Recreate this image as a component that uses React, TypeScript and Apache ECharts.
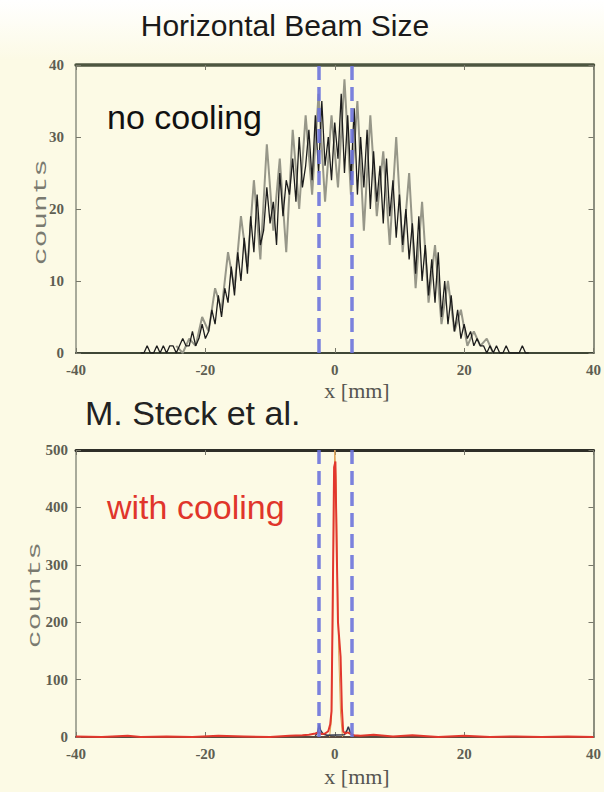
import React, { useEffect, useRef } from "react";
import * as echarts from "echarts";

// ---------- data ----------
const titleText = "Horizontal Beam Size";
const topNote = "no cooling";
const bottomNote = "with cooling";
const credit = "M. Steck et al.";
const xName = "x [mm]";
const yName = "counts";

// uncooled histogram (dark trace), bins of 0.5 mm starting at -30 mm
const binStart = -30;
const binWidth = 0.5;
const noCoolDark = [
  0, 0, 1, 0, 0, 1, 0, 1, 0, 1,
  1, 0, 1, 2, 1, 1, 3, 1, 2, 4,
  2, 3, 6, 4, 8, 5, 9, 7, 12, 8,
  14, 10, 16, 11, 19, 14, 22, 15, 17, 23,
  18, 21, 15, 25, 19, 24, 22, 27, 21, 30,
  23, 26, 31, 24, 33, 25, 35, 26, 30, 24,
  32, 27, 36, 25, 33, 24, 34, 22, 30, 23,
  31, 20, 28, 21, 26, 18, 27, 19, 24, 16,
  22, 15, 20, 13, 18, 11, 19, 10, 15, 8,
  13, 7, 14, 5, 10, 4, 8, 3, 6, 2,
  4, 2, 3, 1, 2, 1, 1, 0, 1, 0,
  1, 0, 0, 1, 0, 0, 0, 0, 1, 0,
  0,
];

// uncooled histogram (grey spikes), bins of 1 mm starting at -24.5 mm
const grayStart = -24.5;
const grayWidth = 1;
const noCoolGray = [
  1, 0, 2, 1, 5, 3, 9, 6, 14, 9,
  19, 12, 24, 13, 29, 17, 27, 14, 31, 20,
  33, 22, 36, 21, 33, 23, 38, 22, 35, 17,
  33, 19, 28, 15, 30, 14, 25, 9, 21, 7,
  15, 4, 10, 3, 6, 1, 3, 1, 2, 0,
];

// cooled beam profile
const coolX = [
  -40, -36, -32, -30, -26, -22, -18, -14, -10, -7,
  -5, -4, -3, -2.5, -2, -1.5, -1, -0.7, -0.5, -0.3,
  -0.1, 0.1, 0.3, 0.5, 0.7, 0.9, 1.1, 1.3, 1.6, 2,
  2.5, 3, 4, 6, 9, 12, 16, 20, 24, 28,
  32, 36, 40,
];
const coolY = [
  1, 0, 2, 0, 1, 0, 2, 1, 0, 2,
  3, 4, 6, 8, 5, 6, 10, 22, 45, 250,
  470, 480, 330, 200, 170, 140, 50, 10, 6, 8,
  5, 3, 2, 4, 1, 3, 0, 2, 0, 1,
  0, 1, 0,
];
const orangeX = [-0.8, -0.5, -0.3, -0.1, 0.0, 0.2, 0.4, 0.6, 0.9, 1.2];
const orangeY = [0, 30, 200, 420, 500, 450, 300, 150, 40, 0];
const baseX = [-3, -2.6, -2.4, -2.2, -1.8, -1.2, 1.5, 1.9, 2.1, 2.4, 2.8];
const baseY = [2, 10, 22, 12, 5, 3, 4, 12, 18, 8, 2];

const cutLines = [-2.4, 2.7];

const xRange = { min: -40, max: 40, interval: 20 };
const yTopRange = { min: 0, max: 40, interval: 10 };
const yBottomRange = { min: 0, max: 500, interval: 100 };

// ---------- helpers ----------
const pairs = (xs: number[], ys: number[]) => xs.map((x, i) => [x, ys[i]]);
const binned = (start: number, width: number, ys: number[]) =>
  ys.map((y, i) => [start + i * width, y]);

const tickFont = {
  fontFamily: "Liberation Serif",
  fontSize: 15,
  fontWeight: "bold" as const,
  color: "#5e5e52",
};

function mainX(gridIndex: number, lineColor: string, margin: number) {
  return {
    type: "value",
    gridIndex,
    ...xRange,
    position: "bottom",
    axisLine: { show: true, onZero: false, lineStyle: { color: lineColor, width: 2 } },
    axisTick: { show: true, inside: true, length: 5, lineStyle: { color: "#77776a" } },
    axisLabel: { ...tickFont, margin },
    splitLine: { show: false },
  };
}
function mirrorX(gridIndex: number, lineColor: string, width: number) {
  return {
    type: "value",
    gridIndex,
    ...xRange,
    position: "top",
    axisLine: { show: true, onZero: false, lineStyle: { color: lineColor, width } },
    axisTick: { show: true, inside: true, length: 5, lineStyle: { color: "#77776a" } },
    axisLabel: { show: false },
    splitLine: { show: false },
  };
}
function mainY(gridIndex: number, range: any, margin: number) {
  return {
    type: "value",
    gridIndex,
    ...range,
    position: "left",
    axisLine: { show: true, onZero: false, lineStyle: { color: "#8d8f80", width: 1.5 } },
    axisTick: { show: true, inside: true, length: 5, lineStyle: { color: "#77776a" } },
    axisLabel: { ...tickFont, margin },
    splitLine: { show: false },
  };
}
function mirrorY(gridIndex: number, range: any) {
  return {
    type: "value",
    gridIndex,
    ...range,
    position: "right",
    axisLine: { show: true, onZero: false, lineStyle: { color: "#8d8f80", width: 2 } },
    axisTick: { show: true, inside: true, length: 5, lineStyle: { color: "#77776a" } },
    axisLabel: { show: false },
    splitLine: { show: false },
  };
}

const dashLines = {
  silent: true,
  symbol: "none",
  label: { show: false },
  lineStyle: { color: "#6d73dc", width: 3.5, type: [14, 7], opacity: 0.9 },
  data: cutLines.map((v) => ({ xAxis: v })),
  z: 10,
};

export default function App() {
  const ref = useRef<HTMLDivElement>(null);
  useEffect(() => {
    if (!ref.current) return;
    const chart = echarts.init(ref.current, null, { renderer: "svg" });
    const option: any = {
      animation: false,
      backgroundColor: "#fcfae5",
      grid: [
        { left: 76, right: 7, top: 65, height: 288 },
        { left: 76, right: 7, top: 450, height: 287 },
      ],
      xAxis: [
        mainX(0, "#3f4636", 9),
        mirrorX(0, "#4d5640", 3.5),
        mainX(1, "#5a4a40", 9),
        mirrorX(1, "#2e2e28", 3),
      ],
      yAxis: [
        mainY(0, yTopRange, 12),
        mirrorY(0, yTopRange),
        mainY(1, yBottomRange, 8),
        mirrorY(1, yBottomRange),
      ],
      series: [
        {
          type: "line",
          xAxisIndex: 0,
          yAxisIndex: 0,
          data: binned(grayStart, grayWidth, noCoolGray),
          showSymbol: false,
          lineStyle: { color: "#979789", width: 2 },
          z: 2,
        },
        {
          type: "line",
          xAxisIndex: 0,
          yAxisIndex: 0,
          data: binned(binStart, binWidth, noCoolDark),
          showSymbol: false,
          lineStyle: { color: "#1c1c1c", width: 1.3 },
          z: 3,
          markLine: dashLines,
        },
        {
          type: "line",
          xAxisIndex: 2,
          yAxisIndex: 2,
          data: pairs(orangeX, orangeY),
          showSymbol: false,
          lineStyle: { color: "#e0a050", width: 1 },
          z: 3,
        },
        {
          type: "line",
          xAxisIndex: 2,
          yAxisIndex: 2,
          data: pairs(baseX, baseY),
          showSymbol: false,
          lineStyle: { color: "#30344a", width: 1.5 },
          z: 3,
        },
        {
          type: "line",
          xAxisIndex: 2,
          yAxisIndex: 2,
          data: pairs(coolX, coolY),
          showSymbol: false,
          lineStyle: { color: "#e2372d", width: 2 },
          z: 4,
          markLine: dashLines,
        },
      ],
      graphic: [
        {
          type: "rect",
          z: -10,
          shape: { x: 0, y: 0, width: 604, height: 60 },
          style: {
            fill: new echarts.graphic.LinearGradient(0, 0, 0, 1, [
              { offset: 0, color: "#ffffff" },
              { offset: 1, color: "#fcfae5" },
            ]),
          },
        },
        {
          type: "text",
          x: 285,
          y: 25,
          z: 100,
          style: {
            text: titleText,
            fontFamily: "Liberation Sans",
            fontSize: 30,
            fill: "#1a1a1a",
            textAlign: "center",
            textVerticalAlign: "middle",
          },
        },
        {
          type: "text",
          x: 107,
          y: 117,
          z: 100,
          style: {
            text: topNote,
            fontFamily: "Liberation Sans",
            fontSize: 34,
            fill: "#111111",
            textAlign: "left",
            textVerticalAlign: "middle",
          },
        },
        {
          type: "text",
          x: 85,
          y: 413,
          z: 100,
          style: {
            text: credit,
            fontFamily: "Liberation Sans",
            fontSize: 34,
            fill: "#222222",
            textAlign: "left",
            textVerticalAlign: "middle",
          },
        },
        {
          type: "text",
          x: 107,
          y: 507,
          z: 100,
          style: {
            text: bottomNote,
            fontFamily: "Liberation Sans",
            fontSize: 34,
            fill: "#e0352b",
            textAlign: "left",
            textVerticalAlign: "middle",
          },
        },
        ...[
          [41, 212],
          [35, 595],
        ].map(([x, y]) => ({
          type: "text",
          x,
          y,
          z: 100,
          rotation: Math.PI / 2,
          scaleX: 1.55,
          style: {
            text: yName,
            fontFamily: "Liberation Mono",
            fontSize: 19,
            fill: "#7a7a70",
            textAlign: "center",
            textVerticalAlign: "middle",
          },
        })),
        ...[
          [357, 390],
          [357, 776],
        ].map(([x, y]) => ({
          type: "text",
          x,
          y,
          z: 100,
          style: {
            text: xName,
            fontFamily: "Liberation Serif",
            fontSize: 22,
            fill: "#555550",
            textAlign: "center",
            textVerticalAlign: "middle",
          },
        })),
      ],
    };
    chart.setOption(option);
    return () => chart.dispose();
  }, []);
  return (
    <div
      ref={ref}
      style={{ position: "absolute", left: 0, top: 0, width: 604, height: 792 }}
    />
  );
}
